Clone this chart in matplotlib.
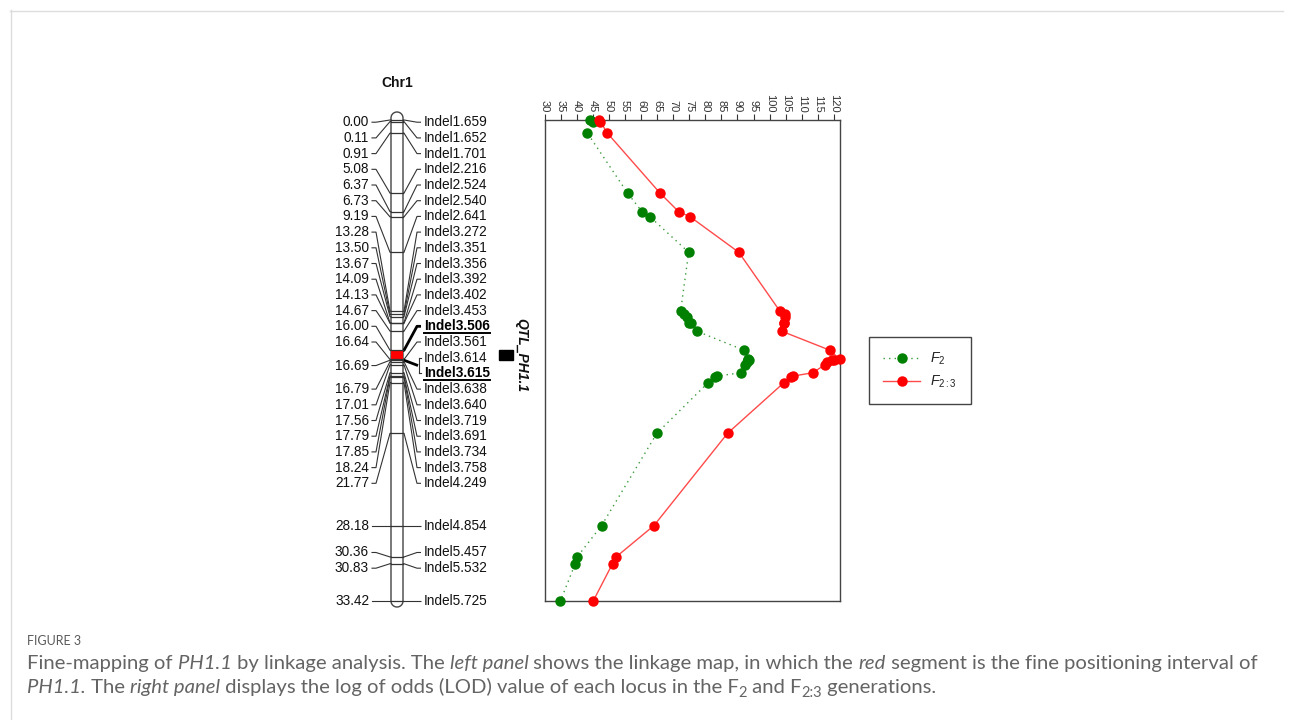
import numpy as np
import matplotlib
matplotlib.use('Agg')
import matplotlib.pyplot as plt
from matplotlib.patches import Rectangle
from matplotlib.lines import Line2D

# ---------------- data ----------------
markers = ['Indel1.659', 'Indel1.652', 'Indel1.701', 'Indel2.216', 'Indel2.524', 'Indel2.540',
           'Indel2.641', 'Indel3.272', 'Indel3.351', 'Indel3.356', 'Indel3.392', 'Indel3.402',
           'Indel3.453', 'Indel3.506', 'Indel3.561', 'Indel3.614', 'Indel3.615', 'Indel3.638',
           'Indel3.640', 'Indel3.719', 'Indel3.691', 'Indel3.734', 'Indel3.758', 'Indel4.249',
           'Indel4.854', 'Indel5.457', 'Indel5.532', 'Indel5.725']
positions = [0.00, 0.11, 0.91, 5.08, 6.37, 6.73, 9.19, 13.28, 13.50, 13.67, 14.09, 14.13,
             14.67, 16.00, 16.64, 16.69, 16.69, 16.79, 17.01, 17.56, 17.79, 17.85, 18.24,
             21.77, 28.18, 30.36, 30.83, 33.42]
lod_f2 = [44.1, 44.9, 43.3, 55.8, 60.3, 62.8, 74.8, 72.3, 73.3, 74.2, 75.0, 75.6,
          77.3, 92.1, 93.4, 93.6, 93.3, 93.0, 92.4, 91.1, 83.7, 83.1, 80.9,
          64.9, 47.7, 40.1, 39.5, 34.9]
lod_f23 = [47.0, 47.3, 49.5, 65.9, 71.7, 75.3, 90.4, 103.2, 104.8, 104.8, 104.5, 104.5,
           103.7, 118.8, 121.9, 120.0, 119.5, 118.0, 117.2, 113.4, 107.4, 106.8, 104.5,
           86.9, 64.0, 52.2, 51.1, 45.1]
bold_markers = ['Indel3.506', 'Indel3.615']
qtl_start, qtl_end = 16.00, 16.69
qtl_name = 'QTL_PH1.1'
chrom_name = 'Chr1'
lod_ticks = [30, 35, 40, 45, 50, 55, 60, 65, 70, 75, 80, 85, 90, 95, 100, 105, 110, 115, 120]
series_labels = [r'$F_2$', r'$F_{2:3}$']

# ---------------- figure ----------------
W, H = 1293, 720
plt.rcParams['font.family'] = ['Liberation Sans', 'DejaVu Sans']
plt.rcParams['mathtext.fontset'] = 'custom'
plt.rcParams['mathtext.rm'] = 'Liberation Sans'
plt.rcParams['mathtext.it'] = 'Liberation Sans:italic'
plt.rcParams['mathtext.bf'] = 'Liberation Sans:bold'

fig = plt.figure(figsize=(W / 100, H / 100), dpi=100)
fig.patch.set_facecolor('white')


def fy(px):
    return 1 - px / H


TOP, BOT = 120, 601
map_len = max(positions)

# chromosome axes: x in pixels, y in cM
axc = fig.add_axes([0, fy(BOT), 1, (BOT - TOP) / H], zorder=0)
axc.set_xlim(0, W)
axc.set_ylim(map_len, 0)
axc.axis('off')
axc.patch.set_alpha(0)

# LOD axes
axl = fig.add_axes([544.7 / W, fy(BOT), (840 - 544.7) / W, (BOT - TOP) / H], zorder=2)
axl.set_xlim(30, 121.9)
axl.set_ylim(map_len, 0)
axl.xaxis.tick_top()
axl.set_xticks(lod_ticks)
axl.set_xticklabels([str(t) for t in lod_ticks])
axl.set_yticks([])
axl.tick_params(axis='x', direction='out', length=4, width=0.8, pad=1.5,
                labelsize=8, labelrotation=-90, colors='#333333')
for s in axl.spines.values():
    s.set_color('#444444')
    s.set_linewidth(1.0)

axl.plot(lod_f2, positions, ls=(0, (1, 3)), lw=1.0, color='#3a9a3a', marker='o', ms=6.5,
         mfc='#008000', mec='#008000', clip_on=False, label=series_labels[0], zorder=3)
axl.plot(lod_f23, positions, ls='-', lw=1.0, color='#ff4a4a', marker='o', ms=6.5,
         mfc='#ff0000', mec='#ff0000', clip_on=False, label=series_labels[1], zorder=4)

leg = axl.legend(loc='upper left', bbox_to_anchor=(869 / W, fy(337)), bbox_transform=fig.transFigure,
                 frameon=True, fancybox=False, edgecolor='#444444', framealpha=1, fontsize=10,
                 handlelength=2.7, borderpad=1.0, labelspacing=0.45, handletextpad=0.7,
                 borderaxespad=0)
leg.get_frame().set_linewidth(1.0)
for t in leg.get_texts():
    t.set_color('#222222')

# ---------------- chromosome ----------------
cx, r = 397, 6
xl, xr = cx - r, cx + r
px_per_cm = (BOT - TOP) / map_len
ry = r / px_per_cm
y_top = -2 / px_per_cm
th = np.linspace(0, np.pi, 40)
top_x = cx + r * np.cos(th)
top_y = y_top - ry * np.sin(th)
bot_x = cx - r * np.cos(th)
bot_y = map_len + ry * np.sin(th)
bx = np.concatenate([top_x, bot_x, [top_x[0]]])
by = np.concatenate([top_y, bot_y, [top_y[0]]])
axc.fill(bx, by, facecolor='white', edgecolor='#444444', lw=1.0, clip_on=False, zorder=1)
axc.add_patch(Rectangle((xl, qtl_start), 2 * r, qtl_end - qtl_start, facecolor='#ff0000',
                        edgecolor='none', zorder=2, clip_on=False))
uniq = sorted(set(positions))
for p in uniq:
    axc.plot([xl, xr], [p, p], color='#333333', lw=0.9, zorder=3, clip_on=False)

# label rows: non-overlapping clusters, evenly spaced around their mean
gap = 15.7 / px_per_cm


def spread(pos, g, lo, hi, merge_factor=1.5):
    cl = [[p] for p in pos]

    def place(c):
        n = len(c)
        s = float(np.mean(c)) - (n - 1) * g / 2
        return min(max(s, lo), hi - (n - 1) * g)

    merged = True
    while merged:
        merged = False
        for k in range(len(cl) - 1):
            s1 = place(cl[k])
            e1 = s1 + (len(cl[k]) - 1) * g
            s2 = place(cl[k + 1])
            if s2 - e1 < g * merge_factor:
                cl[k] = cl[k] + cl[k + 1]
                del cl[k + 1]
                merged = True
                break
    out = []
    for c in cl:
        s = place(c)
        out += [s + j * g for j in range(len(c))]
    return np.array(out)


rows = spread(positions, gap, 0, map_len)

lab_fs = 9.8
lc = '#333333'
renderer = fig.canvas.get_renderer()

groups = []
for i, p in enumerate(positions):
    if groups and abs(positions[groups[-1][0]] - p) < 1e-9:
        groups[-1].append(i)
    else:
        groups.append([i])

for g in groups:
    p = positions[g[0]]
    ym = float(np.mean([rows[i] for i in g]))
    axc.plot([372, 376, xl - 1, xl], [ym, ym, p, p], color=lc, lw=0.8, clip_on=False, zorder=2)
    axc.text(369, ym, f'{p:.2f}', ha='right', va='center', fontsize=lab_fs, color='#111111',
             clip_on=False)
    is_bold = any(markers[i] in bold_markers for i in g)
    lw = 2.0 if is_bold else 0.8
    col = 'black' if is_bold else lc
    if len(g) == 1:
        axc.plot([xr, xr + 1, 417, 421], [p, p, ym, ym], color=col, lw=lw, clip_on=False,
                 zorder=2, solid_capstyle='butt')
    else:
        axc.plot([xr, xr + 1, 418], [p, p, ym], color=col, lw=lw, clip_on=False, zorder=2,
                 solid_capstyle='butt')
        axc.plot([418.5, 418.5], [rows[g[0]], rows[g[-1]]], color=lc, lw=0.8, clip_on=False)
        for i in g:
            axc.plot([418.5, 421], [rows[i], rows[i]], color=lc, lw=0.8, clip_on=False)
    for i in g:
        b = markers[i] in bold_markers
        t = axc.text(424, rows[i], markers[i], ha='left', va='center', fontsize=lab_fs,
                     color='black' if b else '#111111', fontweight='bold' if b else 'normal',
                     clip_on=False)
        if b:
            bb = t.get_window_extent(renderer)
            yline = bb.y0 + 0.5
            fig.add_artist(Line2D([bb.x0 / W, bb.x1 / W], [yline / H, yline / H],
                                  transform=fig.transFigure, color='black', lw=1.4))

axc.text(cx, -2.57, chrom_name, ha='center', va='center', fontsize=10, fontweight='bold',
         color='#111111', clip_on=False)

axc.add_patch(Rectangle((499, qtl_start), 14, qtl_end - qtl_start, facecolor='black',
                        edgecolor='black', clip_on=False, zorder=3))
axc.text(521, (qtl_start + qtl_end) / 2, qtl_name, rotation=-90, ha='center', va='center',
         fontsize=10, fontweight='bold', fontstyle='italic', color='#111111', clip_on=False)

# ---------------- frame & caption ----------------
fig.add_artist(Line2D([10 / W, 1283 / W], [fy(10.5), fy(10.5)], transform=fig.transFigure,
                      color='#dddddd', lw=1))
fig.add_artist(Line2D([10.5 / W, 10.5 / W], [fy(10), 0], transform=fig.transFigure,
                      color='#dddddd', lw=1))

cap_family = ['Lato', 'DejaVu Sans']
cap_color = '#646464'

fig.text(27 / W, fy(645), 'FIGURE 3', fontsize=9, family=cap_family, color='#5a5a5a',
         va='baseline', ha='left')

line1 = [("Fine-mapping of ", 'normal'), ("PH1.1", 'italic'), (" by linkage analysis. The ", 'normal'),
         ("left panel", 'italic'), (" shows the linkage map, in which the ", 'normal'), ("red", 'italic'),
         (" segment is the fine positioning interval of", 'normal')]
line2 = [("PH1.1.", 'italic'), (" The ", 'normal'), ("right panel", 'italic'),
         (" displays the log of odds (LOD) value of each locus in the F", 'normal'), ("2", 'sub'),
         (" and F", 'normal'), ("2:3", 'sub'), (" generations.", 'normal')]


def piece_width(txt, style, size):
    st = 'normal' if style == 'sub' else style
    fs = size * 0.72 if style == 'sub' else size
    t1 = fig.text(0, 0, txt + '|', fontsize=fs, family=cap_family, style=st)
    t2 = fig.text(0, 0, '|', fontsize=fs, family=cap_family, style=st)
    w = t1.get_window_extent(renderer).width - t2.get_window_extent(renderer).width
    t1.remove()
    t2.remove()
    return w


def draw_line(pieces, x0, ybase, size):
    x = x0
    for txt, style in pieces:
        st = 'normal' if style == 'sub' else style
        fs = size * 0.72 if style == 'sub' else size
        yy = ybase + (4 if style == 'sub' else 0)
        fig.text(x / W, fy(yy), txt, fontsize=fs, family=cap_family, style=st, color=cap_color,
                 va='baseline', ha='left')
        x += piece_width(txt, style, size)


base = 10.0
w1 = sum(piece_width(t, s, base) for t, s in line1)
cap_size = base * 1235 / w1
draw_line(line1, 27, 669, cap_size)
draw_line(line2, 27, 693, cap_size)

fig.savefig('out.png', dpi=100)
